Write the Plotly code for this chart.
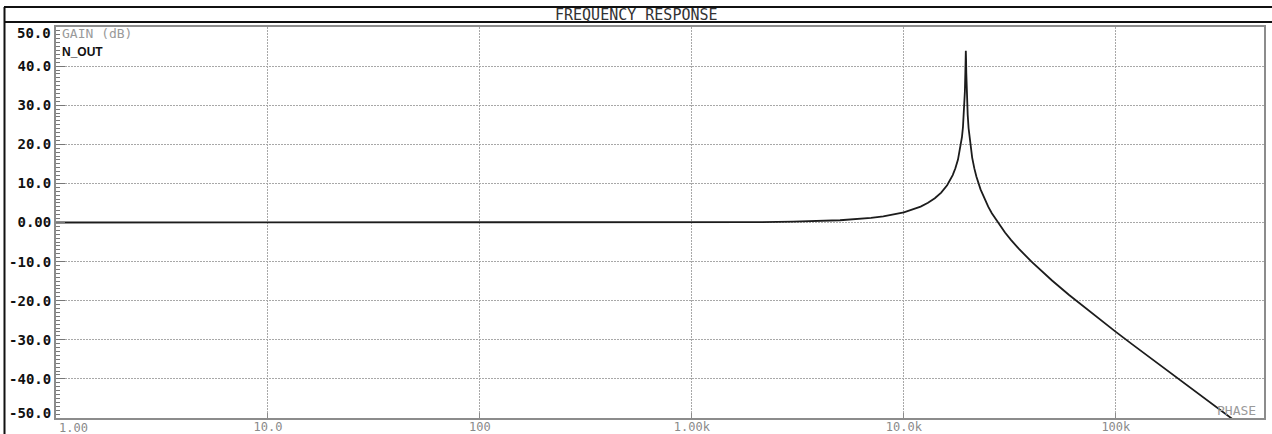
import plotly.graph_objects as go

# Frequency (Hz) and gain (dB)
freq_hz = [1, 10, 100, 1000, 2000, 3000, 5000, 7000, 8000, 10000, 12000, 13000,
           14000, 15000, 16000, 17000, 17500, 18000, 18500, 18800, 19000, 19200,
           19300, 19400, 19500, 19550, 19600, 19650, 19700, 19750, 19800, 19900,
           20000, 20200, 20500, 20800, 21000, 21500, 22000, 23000, 24000, 25000,
           26000, 28000, 30000, 32000, 35000, 40000, 45000, 50000, 60000, 70000,
           80000, 100000, 120000, 150000, 200000, 250000, 300000, 350000, 400000]
gain_db = [0.0, 0.0, 0.0, 0.02, 0.09, 0.21, 0.58, 1.19, 1.58, 2.62, 4.08, 5.04,
           6.20, 7.65, 9.53, 12.12, 13.86, 16.10, 19.24, 21.9, 24.35, 27.77,
           30.16, 33.45, 38.4, 41.8, 43.9, 41.8, 38.3, 35.57, 33.35, 30.04,
           27.6, 24.1, 20.55, 17.98, 16.6, 13.84, 11.70, 8.47, 6.03, 4.05,
           2.39, -0.35, -2.56, -4.43, -6.81, -10.01, -12.61, -14.82, -18.46, -21.40,
           -23.90, -27.97, -31.24, -35.20, -40.27, -44.17, -47.36, -50.05, -52.37]

x_tick_vals = [1, 10, 100, 1000, 10000, 100000]
x_tick_text = ["", "10.0", "100", "1.00k", "10.0k", "100k"]
y_tick_vals = [-50, -40, -30, -20, -10, 0, 10, 20, 30, 40, 50]
y_tick_text = ["", "-40.0", "-30.0", "-20.0", "-10.0", "0.00",
               "10.0", "20.0", "30.0", "40.0", ""]

W, H = 1272, 434
L, R, T, B = 56, 8, 27, 16
pw, ph = W - L - R, H - T - B

def px(x):
    return (x - L) / pw

def py(y):
    return (H - B - y) / ph

grid_col = "#a8a8a8"
axis_col = "#8c8c8c"
mono = "DejaVu Sans Mono"

fig = go.Figure()
fig.add_trace(go.Scatter(x=freq_hz, y=gain_db, mode="lines",
                         line=dict(color="#1c1c1c", width=1.8),
                         showlegend=False, hoverinfo="skip", cliponaxis=True))

fig.update_layout(
    width=W, height=H, autosize=False,
    margin=dict(l=L, r=R, t=T, b=B, pad=0, autoexpand=False),
    paper_bgcolor="white", plot_bgcolor="white",
    xaxis=dict(type="log", range=[0, 5.699], tickvals=x_tick_vals, ticktext=x_tick_text,
               automargin=False, ticklabelstandoff=-3,
               showgrid=True, gridcolor=grid_col, griddash="2px,1px", gridwidth=1,
               showline=True, linecolor=axis_col, linewidth=2, mirror=True,
               ticks="inside", ticklen=5, tickcolor=axis_col, tickwidth=1,
               tickfont=dict(family=mono, size=12, color="#8a8a8a"),
               zeroline=False, fixedrange=True),
    yaxis=dict(range=[-50, 50], tickvals=y_tick_vals, ticktext=y_tick_text,
               automargin=False,
               showgrid=True, gridcolor=grid_col, griddash="2px,1px", gridwidth=1,
               showline=True, linecolor=axis_col, linewidth=2, mirror=True,
               ticks="inside", ticklen=9, tickcolor="#777777", tickwidth=1,
               minor=dict(dtick=1, tick0=0, ticks="inside", ticklen=4, tickcolor="#777777",
                          tickwidth=1, showgrid=False),
               tickfont=dict(family=mono, size=14, color="#111111", weight="bold"),
               zeroline=False, fixedrange=True),
)

# frame lines
shapes = [
    dict(type="line", xref="paper", yref="paper", x0=px(4), x1=px(W + 2), y0=py(7), y1=py(7),
         line=dict(color="#111111", width=2)),
    dict(type="line", xref="paper", yref="paper", x0=px(4), x1=px(W + 2), y0=py(22), y1=py(22),
         line=dict(color="#111111", width=2)),
    dict(type="line", xref="paper", yref="paper", x0=px(4.5), x1=px(4.5), y0=py(7), y1=py(H + 2),
         line=dict(color="#111111", width=2)),
]
fig.update_layout(shapes=shapes)

ann = [
    dict(text="FREQUENCY RESPONSE", xref="paper", yref="paper", x=px(W / 2), y=py(15),
         showarrow=False, font=dict(family=mono, size=15, color="#333333"),
         xanchor="center", yanchor="middle"),
    dict(text="50.0", xref="paper", yref="y", x=0, y=50, yshift=-6, xshift=-3,
         showarrow=False, font=dict(family=mono, size=14, color="#111111", weight="bold"),
         xanchor="right", yanchor="middle"),
    dict(text="-50.0", xref="paper", yref="y", x=0, y=-50, yshift=5, xshift=-3,
         showarrow=False, font=dict(family=mono, size=14, color="#111111", weight="bold"),
         xanchor="right", yanchor="middle"),
    dict(text="1.00", xref="x", yref="paper", x=0, y=0, yshift=-1, xshift=1,
         showarrow=False, font=dict(family=mono, size=12, color="#8a8a8a"),
         xanchor="left", yanchor="top"),
    dict(text="GAIN (dB)", xref="paper", yref="paper", x=0, y=1, xshift=4, yshift=-6,
         showarrow=False, font=dict(family=mono, size=13, color="#9a9a9a"),
         xanchor="left", yanchor="middle"),
    dict(text="N_OUT", xref="paper", yref="paper", x=0, y=py(52), xshift=4,
         showarrow=False, font=dict(family="Liberation Sans", size=12, color="#111111", weight="bold"),
         xanchor="left", yanchor="middle"),
    dict(text="PHASE", xref="paper", yref="paper", x=1, y=0, xshift=-6, yshift=8,
         showarrow=False, font=dict(family=mono, size=13, color="#9a9a9a"),
         xanchor="right", yanchor="middle"),
]
fig.update_layout(annotations=ann)

post = (
    "document.body.style.margin='0';"
    "document.body.style.overflow='hidden';"
)
fig.write_html("out.html", config={"displayModeBar": False}, post_script=post)
